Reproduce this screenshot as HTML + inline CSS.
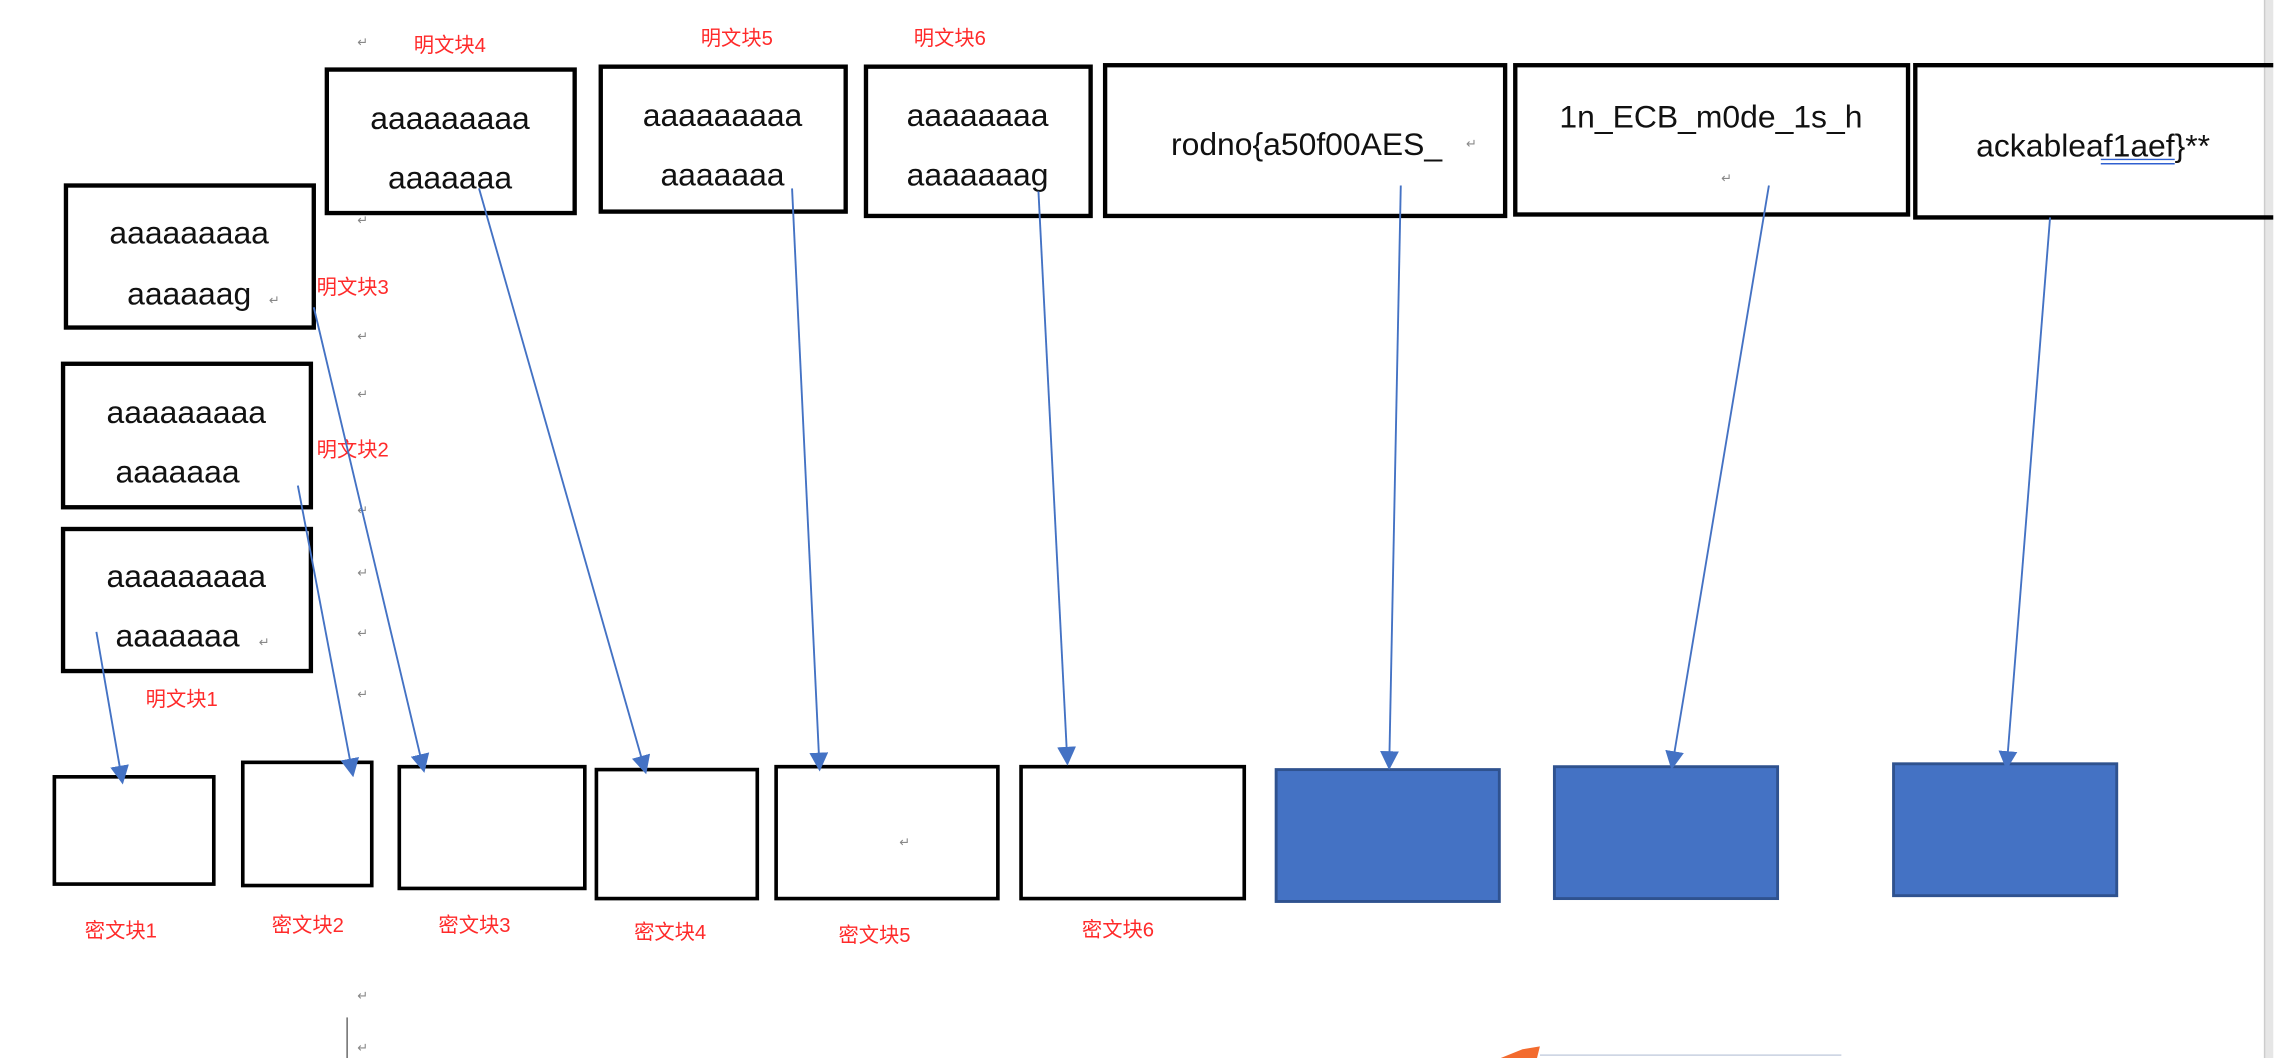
<!DOCTYPE html>
<html><head><meta charset="utf-8"><style>
html,body{margin:0;padding:0;background:#fff;overflow:hidden}
svg{display:block}
.t{font-family:"Liberation Sans","Noto Sans CJK SC",sans-serif;font-size:22px;fill:#111}
.r{font-family:"Liberation Sans","Noto Sans CJK SC",sans-serif;font-size:14px;fill:#ff2a2a}
.m{font-family:"Liberation Sans",sans-serif;font-size:9px;fill:#888}
</style></head><body>
<svg width="2274" height="1058" viewBox="0 0 1568 730" xmlns="http://www.w3.org/2000/svg">
<defs><marker id="a" viewBox="0 0 10 10" refX="9" refY="5" markerWidth="10" markerHeight="10" orient="auto-start-reverse"><path d="M0,0L10,5L0,10z" fill="#4472c4"/></marker></defs>
<rect x="1562" y="0" width="6" height="730" fill="#e6e6e6"/>
<line x1="1562" y1="0" x2="1562" y2="730" stroke="#ccc"/>
<g fill="none" stroke="#000" stroke-width="3">
<rect x="43" y="365" width="171" height="98"/>
<rect x="43" y="251" width="171" height="99"/>
<rect x="45" y="128" width="171" height="98"/>
<rect x="225" y="48" width="171" height="99"/>
<rect x="414" y="46" width="169" height="100"/>
<rect x="597" y="46" width="155" height="103"/>
<rect x="762" y="45" width="276" height="104"/>
<rect x="1045" y="45" width="271" height="103"/>
<path d="M1568,45H1321V150H1568"/>
<g stroke-width="2.5">
<rect x="37" y="536" width="110" height="74"/>
<rect x="167" y="526" width="89" height="85"/>
<rect x="275" y="529" width="128" height="84"/>
<rect x="411" y="531" width="111" height="89"/>
<rect x="535" y="529" width="153" height="91"/>
<rect x="704" y="529" width="154" height="91"/>
</g></g>
<g fill="#4472c4" stroke="#2f528f" stroke-width="2">
<rect x="880" y="531" width="154" height="91"/>
<rect x="1072" y="529" width="154" height="91"/>
<rect x="1306" y="527" width="154" height="91"/>
</g>
<g class="t" text-anchor="middle">
<text x="128" y="405">aaaaaaaaa</text><text x="122" y="446">aaaaaaa</text>
<text x="128" y="292">aaaaaaaaa</text><text x="122" y="333">aaaaaaa</text>
<text x="130" y="168">aaaaaaaaa</text><text x="130" y="210">aaaaaag</text>
<text x="310" y="89">aaaaaaaaa</text><text x="310" y="130">aaaaaaa</text>
<text x="498" y="87">aaaaaaaaa</text><text x="498" y="128">aaaaaaa</text>
<text x="674" y="87">aaaaaaaa</text><text x="674" y="128">aaaaaaag</text>
<text x="901" y="107">rodno{a50f00AES_</text>
<text x="1180" y="88">1n_ECB_m0de_1s_h</text>
</g>
<text class="t" x="1363" y="108">ackableaf1aef}**</text>
<line x1="1449" y1="110" x2="1500" y2="110" stroke="#3060d0"/><line x1="1449" y1="113" x2="1500" y2="113" stroke="#3060d0"/>
<g class="r">
<text x="285" y="36">明文块4</text><text x="483" y="31">明文块5</text><text x="630" y="31">明文块6</text>
<text x="218" y="203">明文块3</text><text x="218" y="315">明文块2</text><text x="100" y="487">明文块1</text>
<text x="58" y="647">密文块1</text><text x="187" y="643">密文块2</text><text x="302" y="643">密文块3</text>
<text x="437" y="648">密文块4</text><text x="578" y="650">密文块5</text><text x="746" y="646">密文块6</text>
</g>
<g class="m"><text x="246" y="32">↵</text><text x="246" y="155">↵</text><text x="246" y="235">↵</text><text x="246" y="275">↵</text><text x="246" y="355">↵</text><text x="246" y="398">↵</text><text x="246" y="440">↵</text><text x="246" y="482">↵</text><text x="246" y="690">↵</text><text x="246" y="726">↵</text><text x="620" y="584">↵</text><text x="1187" y="126">↵</text><text x="1011" y="102">↵</text><text x="185" y="210">↵</text><text x="178" y="446">↵</text></g>
<line x1="239" y1="702" x2="239" y2="730" stroke="#666"/>
<g stroke="#4472c4" stroke-width="1.3" marker-end="url(#a)">
<line x1="66" y1="436" x2="84" y2="540"/>
<line x1="205" y1="335" x2="243" y2="535"/>
<line x1="216" y1="212" x2="292" y2="532"/>
<line x1="330" y1="130" x2="445" y2="533"/>
<line x1="546" y1="130" x2="565" y2="531"/>
<line x1="716" y1="132" x2="736" y2="527"/>
<line x1="966" y1="128" x2="958" y2="530"/>
<line x1="1220" y1="128" x2="1153" y2="530"/>
<line x1="1414" y1="150" x2="1384" y2="530"/>
</g>
<path d="M1035,730L1050,724L1062,722L1060,730z" fill="#f36b2e"/>
<line x1="1062" y1="728" x2="1270" y2="728" stroke="#c8d0e0"/>
</svg>
</body></html>
